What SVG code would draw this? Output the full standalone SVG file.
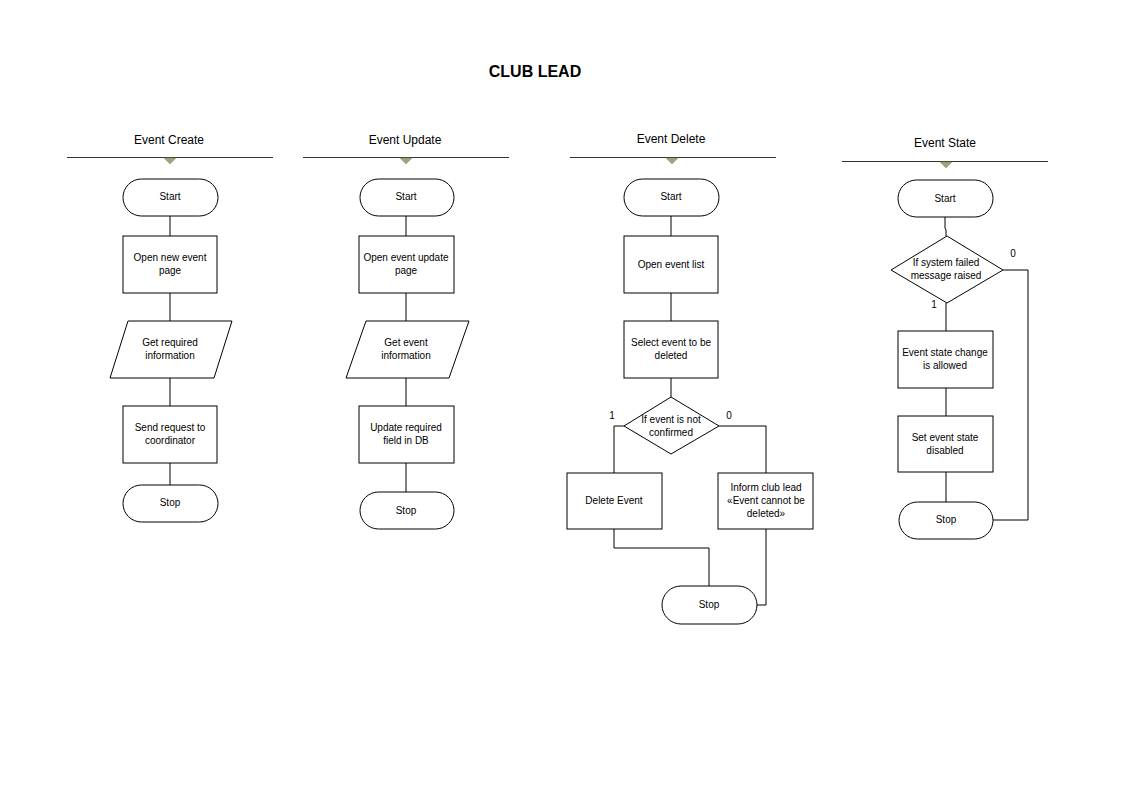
<svg xmlns="http://www.w3.org/2000/svg" width="1123" height="794" viewBox="0 0 1123 794">
<style>
.shape{fill:#ffffff;stroke:#000000;stroke-width:1}
.conn{fill:none;stroke:#000000;stroke-width:1}
.t{font-family:"Liberation Sans",Arial,sans-serif;font-size:10px;fill:#000000;text-anchor:middle}
.h{font-family:"Liberation Sans",Arial,sans-serif;font-size:12px;fill:#000000;text-anchor:middle}
.title{font-family:"Liberation Sans",Arial,sans-serif;font-size:16px;font-weight:bold;fill:#000000;text-anchor:middle}
.lane{stroke:#333333;stroke-width:1}
.tri{fill:#9ea47c;stroke:#8a8f6a;stroke-width:0.5}
</style>
<rect x="0" y="0" width="1123" height="794" fill="#ffffff"/>
<text class="title" x="535" y="77">CLUB LEAD</text>

<g id="headers">
  <g id="h1"><text class="h" x="169" y="144">Event Create</text><line class="lane" x1="67" y1="157.5" x2="273" y2="157.5"/><polygon class="tri" points="164,158 176,158 170,164"/></g>
  <g id="h2"><text class="h" x="405" y="144">Event Update</text><line class="lane" x1="303" y1="157.5" x2="509" y2="157.5"/><polygon class="tri" points="400,158 412,158 406,164"/></g>
  <g id="h3"><text class="h" x="671" y="143">Event Delete</text><line class="lane" x1="570" y1="157.5" x2="776" y2="157.5"/><polygon class="tri" points="666,158 678,158 672,164"/></g>
  <g id="h4"><text class="h" x="945" y="147">Event State</text><line class="lane" x1="842" y1="161.5" x2="1048" y2="161.5"/><polygon class="tri" points="940,162 952,162 946,168"/></g>
</g>

<g id="connectors">
  <line class="conn" x1="170" y1="216" x2="170" y2="236"/>
  <line class="conn" x1="170" y1="293" x2="170" y2="321"/>
  <line class="conn" x1="170" y1="378" x2="170" y2="406"/>
  <line class="conn" x1="170" y1="463" x2="170" y2="485"/>

  <line class="conn" x1="406" y1="216" x2="406" y2="236"/>
  <line class="conn" x1="406" y1="293" x2="406" y2="321"/>
  <line class="conn" x1="406" y1="378" x2="406" y2="406"/>
  <line class="conn" x1="406" y1="463" x2="406" y2="492"/>

  <line class="conn" x1="671" y1="216" x2="671" y2="236"/>
  <line class="conn" x1="671" y1="293" x2="671" y2="321"/>
  <line class="conn" x1="671" y1="378" x2="671" y2="397"/>
  <polyline class="conn" points="624,426 614,426 614,473"/>
  <polyline class="conn" points="719,426 766,426 766,473"/>
  <polyline class="conn" points="614,529 614,548 709,548 709,586"/>
  <polyline class="conn" points="766,529 766,605 757,605"/>

  <polyline class="conn" points="945,217 945,228 946,230 946,236"/>
  <line class="conn" x1="946" y1="303" x2="946" y2="331"/>
  <line class="conn" x1="946" y1="388" x2="946" y2="416"/>
  <line class="conn" x1="946" y1="472" x2="946" y2="502"/>
  <polyline class="conn" points="1003,270 1028,270 1028,520 993,520"/>
</g>

<g id="labels">
  <text class="t" x="612" y="419">1</text>
  <text class="t" x="729" y="419">0</text>
  <text class="t" x="1013" y="257">0</text>
  <text class="t" x="934" y="308">1</text>
</g>

<g id="create-start"><rect class="shape" x="123" y="179" width="95" height="37" rx="18.5"/><text class="t" x="170" y="200">Start</text></g>
<g id="create-open"><rect class="shape" x="123" y="236" width="94" height="57"/><text class="t" x="170" y="261">Open new event</text><text class="t" x="170" y="274">page</text></g>
<g id="create-get"><polygon class="shape" points="128,321 232,321 214,378 110,378"/><text class="t" x="170" y="346">Get required</text><text class="t" x="170" y="359">information</text></g>
<g id="create-send"><rect class="shape" x="123" y="406" width="94" height="57"/><text class="t" x="170" y="431">Send request to</text><text class="t" x="170" y="444">coordinator</text></g>
<g id="create-stop"><rect class="shape" x="123" y="485" width="95" height="37" rx="18.5"/><text class="t" x="170" y="506">Stop</text></g>

<g id="update-start"><rect class="shape" x="360" y="179" width="94" height="37" rx="18.5"/><text class="t" x="406" y="200">Start</text></g>
<g id="update-open"><rect class="shape" x="359" y="236" width="95" height="57"/><text class="t" x="406" y="261">Open event  update</text><text class="t" x="406" y="274">page</text></g>
<g id="update-get"><polygon class="shape" points="366,321 469,321 449,378 346,378"/><text class="t" x="406" y="346">Get event</text><text class="t" x="406" y="359">information</text></g>
<g id="update-db"><rect class="shape" x="359" y="406" width="95" height="57"/><text class="t" x="406" y="431">Update required</text><text class="t" x="406" y="444">field in DB</text></g>
<g id="update-stop"><rect class="shape" x="360" y="492" width="94" height="37" rx="18.5"/><text class="t" x="406" y="514">Stop</text></g>

<g id="delete-start"><rect class="shape" x="624" y="179" width="95" height="37" rx="18.5"/><text class="t" x="671" y="200">Start</text></g>
<g id="delete-open"><rect class="shape" x="624" y="236" width="94" height="57"/><text class="t" x="671" y="268">Open event list</text></g>
<g id="delete-select"><rect class="shape" x="624" y="321" width="94" height="57"/><text class="t" x="671" y="346">Select event to be</text><text class="t" x="671" y="359">deleted</text></g>
<g id="delete-if"><polygon class="shape" points="671,397 719,426 671,454 624,426"/><text class="t" x="671" y="423">If event is not</text><text class="t" x="671" y="436">confirmed</text></g>
<g id="delete-do"><rect class="shape" x="567" y="473" width="95" height="56"/><text class="t" x="614" y="504">Delete Event</text></g>
<g id="delete-inform"><rect class="shape" x="718" y="473" width="95" height="56"/><text class="t" x="766" y="491">Inform club lead</text><text class="t" x="766" y="504">«Event cannot be</text><text class="t" x="766" y="517">deleted»</text></g>
<g id="delete-stop"><rect class="shape" x="662" y="586" width="95" height="38" rx="19"/><text class="t" x="709" y="608">Stop</text></g>

<g id="state-start"><rect class="shape" x="898" y="180" width="95" height="37" rx="18.5"/><text class="t" x="945" y="202">Start</text></g>
<g id="state-if"><polygon class="shape" points="947,236 1003,270 947,303 891,270"/><text class="t" x="946" y="266">If system failed</text><text class="t" x="946" y="279">message raised</text></g>
<g id="state-allowed"><rect class="shape" x="898" y="331" width="95" height="57"/><text class="t" x="945" y="356">Event state change</text><text class="t" x="945" y="369">is allowed</text></g>
<g id="state-disable"><rect class="shape" x="898" y="416" width="95" height="56"/><text class="t" x="945" y="441">Set event state</text><text class="t" x="945" y="454">disabled</text></g>
<g id="state-stop"><rect class="shape" x="899" y="502" width="94" height="37" rx="18.5"/><text class="t" x="946" y="523">Stop</text></g>
</svg>
